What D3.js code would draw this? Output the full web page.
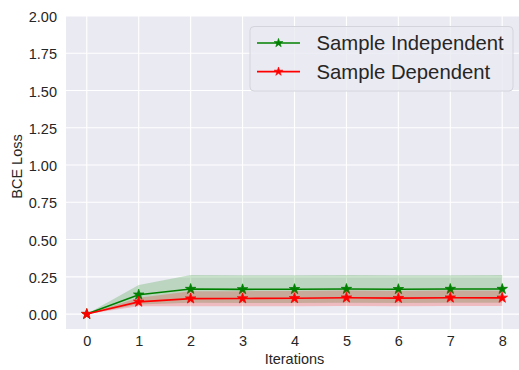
<!DOCTYPE html>
<html>
<head>
<meta charset="utf-8">
<script src="https://cdn.jsdelivr.net/npm/d3@7"></script>
<style>
  html, body { margin: 0; padding: 0; background: #ffffff; }
  svg { display: block; font-family: "Liberation Sans", Arial, sans-serif; }
</style>
</head>
<body>
<svg id="chart" width="519" height="370"></svg>
<script>
// Training curves: mean BCE loss per iteration with a shaded spread band
const iterations = [0, 1, 2, 3, 4, 5, 6, 7, 8];

const indepMean  = [0, 0.130, 0.168, 0.166, 0.167, 0.168, 0.167, 0.168, 0.168];
const indepLower = [0, 0.064, 0.076, 0.074, 0.074, 0.076, 0.074, 0.076, 0.076];
const indepUpper = [0, 0.196, 0.262, 0.260, 0.260, 0.262, 0.260, 0.261, 0.262];

const depMean  = [0, 0.082, 0.104, 0.105, 0.106, 0.110, 0.107, 0.110, 0.109];
const depLower = [0, 0.052, 0.052, 0.053, 0.053, 0.055, 0.053, 0.055, 0.054];
const depUpper = [0, 0.110, 0.154, 0.154, 0.155, 0.158, 0.155, 0.158, 0.157];

const seriesNames = ["Sample Independent", "Sample Dependent"];
const seriesColors = ["#008000", "#ff0000"];

const yTicks = [0, 0.25, 0.5, 0.75, 1.0, 1.25, 1.5, 1.75, 2.0];
const xTicks = iterations;

const svg = d3.select("#chart");
const plot = { left: 66, right: 523, top: 16, bottom: 329 };
const textColor = "#262626";

const x = d3.scaleLinear().domain([-0.4, 8.4]).range([plot.left, plot.right]);
const y = d3.scaleLinear().domain([-0.1, 2.0]).range([plot.bottom, plot.top]);

// Axes background
svg.append("rect")
  .attr("x", plot.left).attr("y", plot.top)
  .attr("width", plot.right - plot.left).attr("height", plot.bottom - plot.top)
  .attr("fill", "#eaeaf2");

// Grid lines
const grid = svg.append("g");
grid.selectAll("line.h").data(yTicks).join("line")
  .attr("x1", plot.left).attr("x2", plot.right)
  .attr("y1", d => y(d)).attr("y2", d => y(d))
  .attr("stroke", "#ffffff").attr("stroke-width", 1.1);
grid.selectAll("line.v").data(xTicks).join("line")
  .attr("y1", plot.top).attr("y2", plot.bottom)
  .attr("x1", d => x(d)).attr("x2", d => x(d))
  .attr("stroke", "#ffffff").attr("stroke-width", 1.1);

// Tick labels through d3 axes (domain and tick marks hidden)
const yAxis = svg.append("g")
  .attr("transform", `translate(${plot.left},0)`)
  .call(d3.axisLeft(y).tickValues(yTicks).tickFormat(d3.format(".2f")).tickSize(0).tickPadding(9));
const xAxis = svg.append("g")
  .attr("transform", `translate(0,${plot.bottom})`)
  .call(d3.axisBottom(x).tickValues(xTicks).tickFormat(d3.format("d")).tickSize(0).tickPadding(7));
[yAxis, xAxis].forEach(a => {
  a.select(".domain").remove();
  a.selectAll("text").attr("fill", textColor).style("font-size", "14.5px")
    .style("font-family", "'Liberation Sans', Arial, sans-serif");
});
yAxis.selectAll("text").attr("dy", "0.38em");

// Axis titles
svg.append("text")
  .attr("x", (plot.left + plot.right) / 2).attr("y", 363.5)
  .attr("text-anchor", "middle").attr("fill", textColor)
  .style("font-size", "14.5px").text("Iterations");
svg.append("text")
  .attr("transform", `translate(22,${(plot.top + plot.bottom) / 2 - 6}) rotate(-90)`)
  .attr("text-anchor", "middle").attr("fill", textColor)
  .style("font-size", "14.5px").text("BCE Loss");

// Series
const series = [
  { mean: indepMean, lower: indepLower, upper: indepUpper },
  { mean: depMean, lower: depLower, upper: depUpper }
];

const area = d3.area()
  .x((d, i) => x(iterations[i]))
  .y0(d => y(d[0]))
  .y1(d => y(d[1]));
const line = d3.line()
  .x((d, i) => x(iterations[i]))
  .y(d => y(d));
const star = d3.symbol().type(d3.symbolStar);

const clip = svg.append("clipPath").attr("id", "plotclip")
  .append("rect")
  .attr("x", plot.left).attr("y", plot.top)
  .attr("width", plot.right - plot.left).attr("height", plot.bottom - plot.top);

const marks = svg.append("g").attr("clip-path", "url(#plotclip)");
series.forEach((s, k) => {
  const color = seriesColors[k];
  const band = s.lower.map((lo, i) => [lo, s.upper[i]]);
  marks.append("path").datum(band)
    .attr("d", area)
    .attr("fill", color).attr("fill-opacity", 0.2);
  marks.append("path").datum(s.mean)
    .attr("d", line)
    .attr("fill", "none").attr("stroke", color).attr("stroke-width", 1.6);
  marks.selectAll(null).data(s.mean).join("path")
    .attr("transform", (d, i) => `translate(${x(iterations[i])},${y(d)})`)
    .attr("d", star.size(34))
    .attr("fill", color).attr("stroke", color).attr("stroke-width", 0.8);
});

// Legend
const legend = svg.append("g");
legend.append("rect")
  .attr("x", 250).attr("y", 26.5).attr("width", 263).attr("height", 64.5)
  .attr("rx", 4).attr("ry", 4)
  .attr("fill", "#eaeaf2").attr("fill-opacity", 0.8)
  .attr("stroke", "#d4d4dc").attr("stroke-width", 1);
seriesNames.forEach((name, k) => {
  const cy = 43 + k * 28.6;
  legend.append("line")
    .attr("x1", 257).attr("x2", 300).attr("y1", cy).attr("y2", cy)
    .attr("stroke", seriesColors[k]).attr("stroke-width", 1.6);
  legend.append("path")
    .attr("transform", `translate(278.5,${cy})`)
    .attr("d", star.size(24))
    .attr("fill", seriesColors[k]).attr("stroke", seriesColors[k]).attr("stroke-width", 0.6);
  legend.append("text")
    .attr("x", 316.5).attr("y", cy + 7.2)
    .attr("fill", textColor).style("font-size", "20.3px")
    .text(name);
});
</script>
</body>
</html>
